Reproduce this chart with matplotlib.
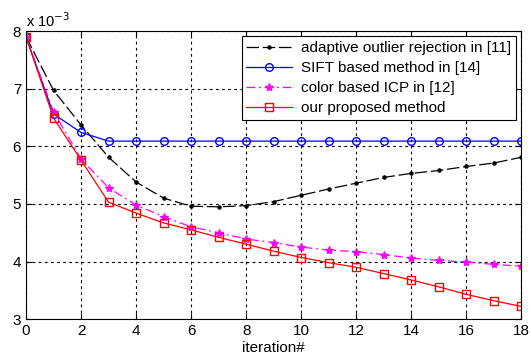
import numpy as np
import matplotlib.pyplot as plt

plt.rcParams['font.family'] = ['Liberation Sans', 'DejaVu Sans']

iterations = np.arange(0, 19)

# values in units of 1e-3
adaptive = [7.9, 6.97, 6.37, 5.81, 5.38, 5.10, 4.96, 4.95, 4.97, 5.04, 5.15,
            5.26, 5.36, 5.46, 5.53, 5.58, 5.65, 5.71, 5.81]
sift = [7.9, 6.56, 6.24, 6.09, 6.09, 6.09, 6.09, 6.09, 6.09, 6.09, 6.09,
        6.09, 6.09, 6.09, 6.09, 6.09, 6.09, 6.09, 6.09]
color_icp = [7.9, 6.6, 5.78, 5.28, 4.98, 4.78, 4.60, 4.50, 4.39, 4.33, 4.25,
             4.20, 4.17, 4.12, 4.06, 4.02, 3.99, 3.95, 3.92]
proposed = [7.9, 6.49, 5.76, 5.03, 4.84, 4.67, 4.55, 4.42, 4.30, 4.18, 4.07,
            3.98, 3.90, 3.79, 3.68, 3.56, 3.43, 3.32, 3.22]

labels = ["adaptive outlier rejection in [11]", "SIFT based method in [14]",
          "color based ICP in [12]", "our proposed method"]

fig = plt.figure(figsize=(5.31, 3.57), dpi=100)
ax = fig.add_axes([0.049, 0.106, 0.933, 0.807])

ax.plot(iterations, adaptive, color='black', lw=0.9, dashes=(10, 3),
        marker='.', ms=4.5, label=labels[0])
ax.plot(iterations, sift, color='blue', lw=0.9, marker='o', ms=5.5,
        mfc='none', mec='blue', label=labels[1])
ax.plot(iterations, color_icp, color='magenta', lw=0.9, dashes=(7, 3, 1.5, 3),
        marker='*', ms=6, mfc='magenta', label=labels[2])
ax.plot(iterations, proposed, color='red', lw=0.9, marker='s', ms=5.5,
        mfc='none', mec='red', label=labels[3])

ax.set_xlim(0, 18)
ax.set_ylim(3, 8)
ax.set_xticks(range(0, 19, 2))
ax.set_yticks(range(3, 9))
ax.tick_params(direction='in', labelsize=11, length=4, top=True, right=True)
ax.grid(True, color='black', ls=(0, (2.5, 3)), lw=0.8)
for s in ax.spines.values():
    s.set_linewidth(0.8)

ax.set_xlabel('iteration#', fontsize=11, labelpad=2)
ax.text(0.0, 1.005, r'x 10$^{-3}$', transform=ax.transAxes, fontsize=10.5,
        ha='left', va='bottom')

leg = ax.legend(loc='upper right', fontsize=11, fancybox=False,
                framealpha=1, edgecolor='black', borderaxespad=0.35,
                handlelength=3, labelspacing=0.4, borderpad=0.3,
                handletextpad=0.6)
leg.get_frame().set_linewidth(0.8)

fig.savefig('out.png', dpi=100)
